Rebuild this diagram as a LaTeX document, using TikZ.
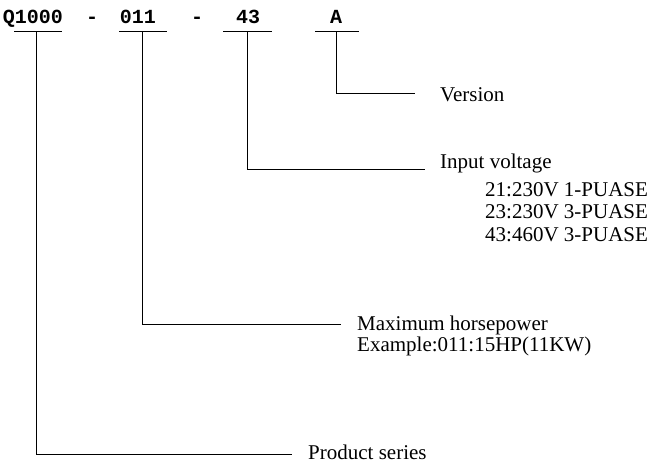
\documentclass[tikz,border=0pt]{standalone}
\usepackage{fontspec}
\setmainfont{Liberation Serif}
\setmonofont{Liberation Mono}
\usetikzlibrary{positioning}

\begin{document}
\begin{tikzpicture}[
      x=1pt, y=-1pt,
      code/.style={font=\ttfamily\bfseries\fontsize{20}{24}\selectfont, anchor=base, inner sep=0pt},
      desc/.style={font=\fontsize{21}{24}\selectfont, anchor=base west, inner sep=0pt},
      lead/.style={line width=1pt}
  ]
    \useasboundingbox (0,0) rectangle (650,469);
    % model code
    \node[code] (series) at (33,23) {Q1000};
    \node[code] (dashA) at (92,23) {-};
    \node[code] (power) at (138,23) {011};
    \node[code] (dashB) at (197,23) {-};
    \node[code] (volt) at (248,23) {43};
    \node[code] (ver) at (336,23) {A};
    % underlines
    \draw[lead] (14,31) -- (62,31);
    \draw[lead] (119,31) -- (167,31);
    \draw[lead] (223,31) -- (272,31);
    \draw[lead] (315,31) -- (359,31);
    % descriptions
    \node[desc] (verT) at (440,101) {Version};
    \node[desc] (voltT) at (440,168) {Input voltage};
    \node[desc] (voltA) at (485,196) {21:230V 1-PUASE};
    \node[desc] (voltB) at (485,218.5) {23:230V 3-PUASE};
    \node[desc] (voltC) at (485,241) {43:460V 3-PUASE};
    \node[desc] (powT) at (357,330) {Maximum horsepower};
    \node[desc] (powEx) at (357,351) {Example:011:15HP(11KW)};
    \node[desc] (serT) at (308,459) {Product series};
    % leader ends
    \coordinate (verE) at (415,93);
    \coordinate (voltE) at (425,169);
    \coordinate (powE) at (341,324);
    \coordinate (serE) at (292,454);
    \draw[lead] (336,31) |- (verE);
    \draw[lead] (247,31) |- (voltE);
    \draw[lead] (142,31) |- (powE);
    \draw[lead] (36,31) |- (serE);
  \end{tikzpicture}
\end{document}
